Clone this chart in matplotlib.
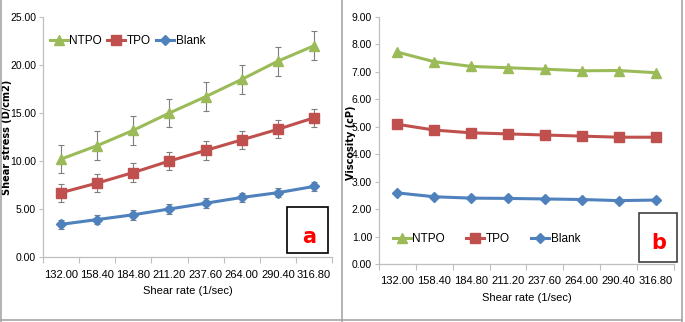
import matplotlib
matplotlib.use("Agg")
import matplotlib.pyplot as plt
from matplotlib.patches import Rectangle
from matplotlib.lines import Line2D

plt.rcParams["font.family"] = ["Liberation Sans", "DejaVu Sans"]

shear_rate = ["132.00", "158.40", "184.80", "211.20", "237.60", "264.00", "290.40", "316.80"]

# panel a: shear stress (D/cm2)
stress_ntpo = [10.2, 11.6, 13.2, 15.0, 16.7, 18.5, 20.4, 22.0]
stress_tpo = [6.7, 7.7, 8.8, 10.0, 11.1, 12.2, 13.3, 14.5]
stress_blank = [3.4, 3.9, 4.4, 5.0, 5.6, 6.2, 6.7, 7.35]
err_ntpo = [1.5, 1.5, 1.5, 1.5, 1.5, 1.5, 1.5, 1.5]
err_tpo = [0.95, 0.95, 0.95, 0.95, 0.95, 0.95, 0.95, 0.95]
err_blank = [0.5, 0.5, 0.5, 0.5, 0.5, 0.5, 0.5, 0.5]

# panel b: viscosity (cP)
visc_ntpo = [7.72, 7.37, 7.2, 7.15, 7.1, 7.04, 7.05, 6.97]
visc_tpo = [5.09, 4.88, 4.78, 4.74, 4.70, 4.66, 4.62, 4.62]
visc_blank = [2.59, 2.45, 2.40, 2.39, 2.37, 2.35, 2.31, 2.33]

GREEN = "#9BBB59"
RED = "#C0504D"
BLUE = "#4F81BD"
AXC = "#BFBFBF"

series = [("NTPO", GREEN, "^", 7.5), ("TPO", RED, "s", 7.0), ("Blank", BLUE, "D", 5.0)]

W, H = 685, 322
fig = plt.figure(figsize=(W / 100, H / 100), dpi=100)
ax1 = fig.add_axes([43 / W, 65 / H, 289 / W, 240 / H])
ax2 = fig.add_axes([379 / W, 58 / H, 295 / W, 247 / H])

x = list(range(len(shear_rate)))


def style(ax, ymax, step):
    n = int(round(ymax / step))
    ax.set_xlim(-0.5, len(x) - 0.5)
    ax.set_ylim(0, ymax)
    ax.set_yticks([i * step for i in range(n + 1)])
    ax.set_yticklabels([f"{i * step:.2f}" for i in range(n + 1)])
    ax.set_xticks([i - 0.5 for i in range(len(x) + 1)])
    ax.set_xticklabels([])
    ax.set_xticks(x, minor=True)
    ax.set_xticklabels(shear_rate, minor=True)
    ax.tick_params(axis="x", which="major", length=4, color=AXC, direction="out")
    ax.tick_params(axis="x", which="minor", length=0, pad=9, labelsize=8)
    ax.tick_params(axis="y", length=3, color=AXC, labelsize=7.5, pad=2)
    for s in ("top", "right"):
        ax.spines[s].set_visible(False)
    for s in ("left", "bottom"):
        ax.spines[s].set_color(AXC)
        ax.spines[s].set_linewidth(0.9)
    ax.set_xlabel("Shear rate (1/sec)", fontsize=8, labelpad=5)


def legend(ax, x0, yc, colsp):
    ax.legend(loc="center left", bbox_to_anchor=(x0 / W, 1 - yc / H),
              bbox_transform=fig.transFigure, ncol=3, frameon=False,
              fontsize=8.5, handlelength=1.5, handletextpad=0.15,
              columnspacing=colsp, borderpad=0, borderaxespad=0)


# panel a
errs = [err_ntpo, err_tpo, err_blank]
for (name, c, m, ms), ys, e in zip(series, [stress_ntpo, stress_tpo, stress_blank], errs):
    ax1.errorbar(x, ys, yerr=e, fmt="none", ecolor="#7F7F7F", elinewidth=0.8,
                 capsize=2.5, capthick=0.8, zorder=2)
    ax1.plot(x, ys, color=c, lw=2.2, marker=m, ms=ms, mec=c, label=name, zorder=3)
style(ax1, 25, 5)
ax1.set_ylabel("Shear stress (D/cm2)", fontsize=7, fontweight="bold", family="DejaVu Sans")
ax1.yaxis.set_label_coords((12 - 43) / 289, 0.5)
legend(ax1, 50, 41, 0.45)

# panel b
for (name, c, m, ms), ys in zip(series, [visc_ntpo, visc_tpo, visc_blank]):
    ax2.plot(x, ys, color=c, lw=2.2, marker=m, ms=ms, mec=c, label=name, zorder=3)
style(ax2, 9, 1)
ax2.set_ylabel("Viscosity (cP)", fontsize=7, fontweight="bold", family="DejaVu Sans")
ax2.yaxis.set_label_coords((356 - 379) / 295, 0.49)
legend(ax2, 393, 239, 1.8)

# boxed panel letters
fig.patches.append(Rectangle((287 / W, 1 - 253 / H), 41 / W, 46 / H,
                             transform=fig.transFigure, fill=False, ec="black", lw=1.2))
fig.text(309 / W, 1 - 237 / H, "a", color="red", fontsize=15, fontweight="bold",
         ha="center", va="center", family="DejaVu Sans")
fig.patches.append(Rectangle((639 / W, 1 - 262 / H), 38 / W, 49 / H,
                             transform=fig.transFigure, fill=False, ec="#404040", lw=1.2))
fig.text(659 / W, 1 - 243 / H, "b", color="red", fontsize=15, fontweight="bold",
         ha="center", va="center", family="DejaVu Sans")

# panel frames
fr = "#A6A6A6"
for xx in (1, 342, 682):
    fig.lines.append(Line2D([xx / W, xx / W], [0, 1], transform=fig.transFigure,
                            color=fr, lw=1.2))
fig.lines.append(Line2D([0, 682 / W], [2 / H, 2 / H], transform=fig.transFigure,
                        color=fr, lw=1.2))

fig.savefig("out.png", dpi=100)
